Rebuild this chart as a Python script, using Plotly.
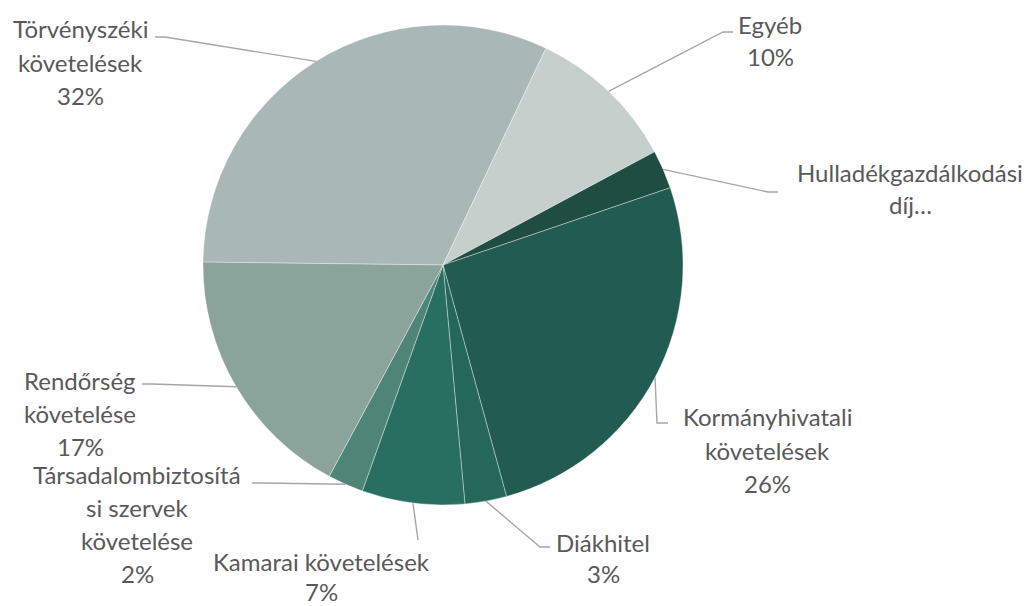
import math
import plotly.graph_objects as go

# ---- data ----
categories = [
    "Törvényszéki követelések",
    "Egyéb",
    "Hulladékgazdálkodási díj",
    "Kormányhivatali követelések",
    "Diákhitel",
    "Kamarai követelések",
    "Társadalombiztosítási szervek követelése",
    "Rendőrség követelése",
]
values = [31.8, 10.1, 2.6, 25.9, 2.8, 6.9, 2.4, 17.3]
# label text as shown in the chart (wrapped lines); truncated label has no percent
label_lines = [
    ["Törvényszéki", "követelések"],
    ["Egyéb"],
    ["Hulladékgazdálkodási", "díj…"],
    ["Kormányhivatali", "követelések"],
    ["Diákhitel"],
    ["Kamarai követelések"],
    ["Társadalombiztosítá", "si szervek", "követelése"],
    ["Rendőrség", "követelése"],
]
show_pct = [True, True, False, True, True, True, True, True]

colors = ["#A9B8B4", "#C5D0CC", "#1F4D42", "#225B51", "#256759", "#286F62", "#4E8577", "#8AA49B"]

# ---- layout (pixels, in screenshot coordinates) ----
W, H = 1034, 606
CX, CY, R = 443, 265, 240
ROT = 270.7
TEXT_COLOR = "#595959"
LINE_COLOR = "#A6A6A6"
FONT = "Lato"
FS = 24
LINE_GAP = 33

# label block: centre x, first line centre y, line gap
label_pos = [(80, 29, 33), (770, 24, 33), (910, 172, 33), (767, 417, 33),
             (603, 542, 31), (321, 561, 30), (137, 474, 33), (80, 380, 33)]
# leader elbows (elbow point, end point)
leader_pts = [
    [(165, 37), (155, 37)],
    [(723, 32), (733, 32)],
    [(768, 192), (778, 192)],
    [(657, 423), (668, 423)],
    [(540, 547), (550, 547)],
    [(418, 540)],
    [(262, 483), (252, 483)],
    [(152, 384), (142, 384)],
]


def px(x):
    return x / W


def py(y):
    return 1 - y / H


fig = go.Figure()
fig.add_trace(go.Pie(
    labels=categories,
    values=values,
    sort=False,
    direction="clockwise",
    rotation=ROT,
    textinfo="none",
    marker=dict(colors=colors, line=dict(color="rgba(255,255,255,0.6)", width=0.6)),
    domain=dict(x=[px(CX - R), px(CX + R)], y=[py(CY + R), py(CY - R)]),
    showlegend=False,
    hovertemplate="%{label}: %{percent}<extra></extra>",
))

total = sum(values)
annotations = []
shapes = []
cum = 0.0
for i, v in enumerate(values):
    mid = ROT + (cum + v / 2) / total * 360
    cum += v
    a = math.radians(mid)
    ax, ay = CX + R * math.sin(a), CY - R * math.cos(a)
    pts = [(ax, ay)] + leader_pts[i]
    path = "M " + " L ".join(f"{px(x)},{py(y)}" for x, y in pts)
    shapes.append(dict(type="path", path=path, xref="paper", yref="paper",
                       line=dict(color=LINE_COLOR, width=1.4)))
    lines = list(label_lines[i])
    if show_pct[i]:
        lines.append(f"{round(v / total * 100)}%")
    lx, ly, gap = label_pos[i]
    for k, t in enumerate(lines):
        annotations.append(dict(
            text=t, x=px(lx), y=py(ly + k * gap), xref="paper", yref="paper",
            xanchor="center", yanchor="middle", showarrow=False,
            font=dict(family=FONT, size=FS, color=TEXT_COLOR),
        ))

fig.update_layout(
    width=W, height=H,
    margin=dict(l=0, r=0, t=0, b=0),
    paper_bgcolor="white",
    plot_bgcolor="white",
    annotations=annotations,
    shapes=shapes,
)

fig.write_html(
    "out.html",
    config={"displayModeBar": False},
    post_script="document.body.style.margin='0';document.body.style.overflow='hidden';",
)
